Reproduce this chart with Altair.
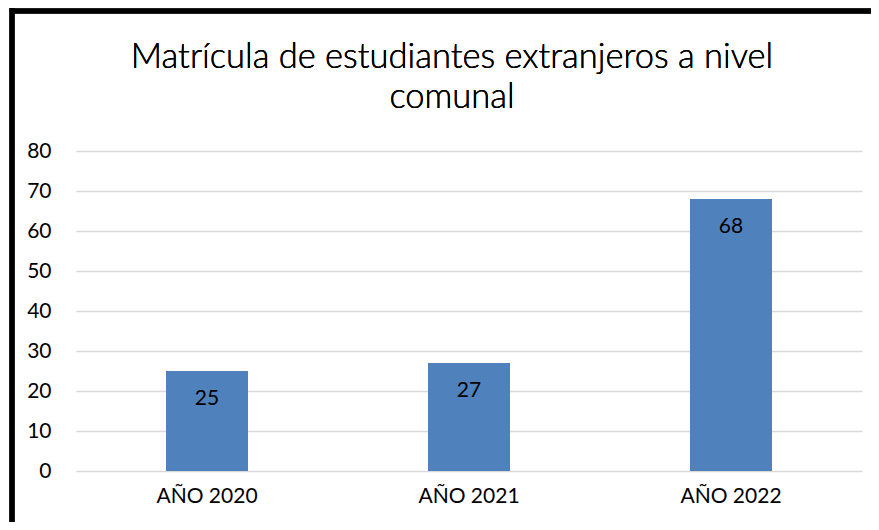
import altair as alt
import pandas as pd

categories = ["AÑO 2020", "AÑO 2021", "AÑO 2022"]
values = [25, 27, 68]
title_lines = ["Matrícula de estudiantes extranjeros a nivel", "comunal"]
y_ticks = [0, 10, 20, 30, 40, 50, 60, 70, 80]

df = pd.DataFrame({"cat": categories, "val": values})
FONT = "Lato"

x = alt.X("cat:N", sort=categories, title=None,
          scale=alt.Scale(paddingInner=0.687, paddingOuter=0.3435),
          axis=alt.Axis(labelAngle=0, labelFontSize=21, labelFont=FONT, labelColor="#000000",
                        ticks=False, domain=False, labelPadding=14))
y = alt.Y("val:Q", title=None,
          scale=alt.Scale(domain=[0, 80]),
          axis=alt.Axis(values=y_ticks, labelFontSize=21, labelFont=FONT, labelColor="#000000",
                        ticks=False, domain=False, gridColor="#d9d9d9", gridWidth=1.3,
                        labelPadding=25, labelOverlap=False, tickCount=9))

base = alt.Chart(df)
bars = base.mark_bar(color="#4F81BD").encode(x=x, y=y)
labels = base.mark_text(font=FONT, fontSize=21, color="#000000", baseline="middle", dy=28).encode(
    x=x, y=y, text="val:Q")

title1 = base.mark_text(font=FONT, fontSize=34.5, fontWeight=300, color="#000000",
                        baseline="middle", align="center").encode(
    x=alt.value(376), y=alt.value(-93), text=alt.value(title_lines[0]))
title2 = base.mark_text(font=FONT, fontSize=34.5, fontWeight=300, color="#000000",
                        baseline="middle", align="center").encode(
    x=alt.value(376), y=alt.value(-53), text=alt.value(title_lines[1]))

border_left = base.mark_rule(color="#000000", strokeWidth=5).encode(
    x=alt.value(-64), y=alt.value(-145), y2=alt.value(400))
border_top = base.mark_rule(color="#000000", strokeWidth=5).encode(
    x=alt.value(-66), x2=alt.value(830), y=alt.value(-140))

chart = alt.layer(bars, labels, title1, title2, border_left, border_top).properties(
    width=786, height=320,
    autosize=alt.AutoSizeParams(type="none"),
    padding={"left": 68, "top": 143, "right": 9, "bottom": 51},
).configure_view(stroke=None)

chart.save("out.html", embed_options={"renderer": "svg", "actions": False})
